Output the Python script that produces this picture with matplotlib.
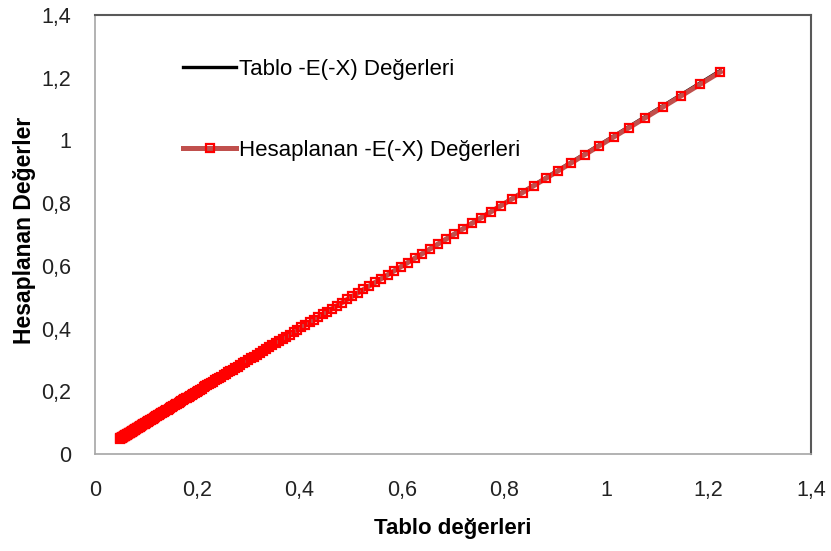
import matplotlib.pyplot as plt

plt.rcParams['font.family'] = ['Liberation Sans', 'DejaVu Sans']

# -E(-X) tablo değerleri, X = 0,20 ... 2,00 (adım 0,01)
tablo = [
    1.2227, 1.1829, 1.1454, 1.1099, 1.0763, 1.0443, 1.0139, 0.9849, 0.9573, 0.9309,
    0.9057, 0.8815, 0.8583, 0.8361, 0.8148, 0.7942, 0.7745, 0.7554, 0.7371, 0.7194,
    0.7024, 0.6859, 0.6700, 0.6546, 0.6397, 0.6253, 0.6114, 0.5979, 0.5848, 0.5721,
    0.5598, 0.5478, 0.5362, 0.5250, 0.5140, 0.5034, 0.4930, 0.4830, 0.4732, 0.4637,
    0.4544, 0.4454, 0.4366, 0.4280, 0.4197, 0.4115, 0.4036, 0.3959, 0.3883, 0.3810,
    0.3738, 0.3668, 0.3599, 0.3532, 0.3467, 0.3403, 0.3341, 0.3280, 0.3221, 0.3163,
    0.3106, 0.3051, 0.2996, 0.2943, 0.2891, 0.2840, 0.2790, 0.2742, 0.2694, 0.2648,
    0.2602, 0.2557, 0.2513, 0.2471, 0.2429, 0.2387, 0.2347, 0.2308, 0.2269, 0.2231,
    0.2194, 0.2157, 0.2122, 0.2087, 0.2052, 0.2019, 0.1986, 0.1953, 0.1922, 0.1891,
    0.1860, 0.1830, 0.1801, 0.1772, 0.1743, 0.1716, 0.1688, 0.1662, 0.1635, 0.1609,
    0.1584, 0.1559, 0.1535, 0.1511, 0.1487, 0.1464, 0.1441, 0.1419, 0.1397, 0.1376,
    0.1355, 0.1334, 0.1313, 0.1293, 0.1274, 0.1254, 0.1235, 0.1216, 0.1198, 0.1180,
    0.1162, 0.1145, 0.1128, 0.1111, 0.1094, 0.1078, 0.1062, 0.1046, 0.1031, 0.1015,
    0.1000, 0.0985, 0.0971, 0.0957, 0.0943, 0.0929, 0.0915, 0.0902, 0.0889, 0.0876,
    0.0863, 0.0851, 0.0838, 0.0826, 0.0814, 0.0802, 0.0791, 0.0780, 0.0768, 0.0757,
    0.0747, 0.0736, 0.0725, 0.0715, 0.0705, 0.0695, 0.0685, 0.0675, 0.0666, 0.0656,
    0.0647, 0.0638, 0.0629, 0.0620, 0.0612, 0.0603, 0.0595, 0.0586, 0.0578, 0.0570,
    0.0562, 0.0554, 0.0547, 0.0539, 0.0532, 0.0524, 0.0517, 0.0510, 0.0503, 0.0496,
    0.0489,
]

# hesaplanan -E(-X) değerleri, aynı X noktaları için
hesaplanan = [
    1.2182, 1.1786, 1.1413, 1.1060, 1.0726, 1.0408, 1.0105, 0.9817, 0.9542, 0.9280,
    0.9030, 0.8789, 0.8558, 0.8337, 0.8125, 0.7920, 0.7724, 0.7534, 0.7352, 0.7176,
    0.7008, 0.6844, 0.6686, 0.6533, 0.6385, 0.6242, 0.6104, 0.5970, 0.5840, 0.5714,
    0.5592, 0.5473, 0.5358, 0.5247, 0.5138, 0.5033, 0.4930, 0.4830, 0.4732, 0.4637,
    0.4544, 0.4454, 0.4366, 0.4280, 0.4197, 0.4115, 0.4036, 0.3959, 0.3883, 0.3810,
    0.3738, 0.3668, 0.3599, 0.3532, 0.3467, 0.3403, 0.3341, 0.3280, 0.3221, 0.3163,
    0.3106, 0.3051, 0.2996, 0.2943, 0.2891, 0.2840, 0.2790, 0.2742, 0.2694, 0.2648,
    0.2602, 0.2557, 0.2513, 0.2471, 0.2429, 0.2387, 0.2347, 0.2308, 0.2269, 0.2231,
    0.2194, 0.2157, 0.2122, 0.2087, 0.2052, 0.2019, 0.1986, 0.1953, 0.1922, 0.1891,
    0.1860, 0.1830, 0.1801, 0.1772, 0.1743, 0.1716, 0.1688, 0.1662, 0.1635, 0.1609,
    0.1584, 0.1559, 0.1535, 0.1511, 0.1487, 0.1464, 0.1441, 0.1419, 0.1397, 0.1376,
    0.1355, 0.1334, 0.1313, 0.1293, 0.1274, 0.1254, 0.1235, 0.1216, 0.1198, 0.1180,
    0.1162, 0.1145, 0.1128, 0.1111, 0.1094, 0.1078, 0.1062, 0.1046, 0.1031, 0.1015,
    0.1000, 0.0985, 0.0971, 0.0957, 0.0943, 0.0929, 0.0915, 0.0902, 0.0889, 0.0876,
    0.0863, 0.0851, 0.0838, 0.0826, 0.0814, 0.0802, 0.0791, 0.0780, 0.0768, 0.0757,
    0.0747, 0.0736, 0.0725, 0.0715, 0.0705, 0.0695, 0.0685, 0.0675, 0.0666, 0.0656,
    0.0647, 0.0638, 0.0629, 0.0620, 0.0612, 0.0603, 0.0595, 0.0586, 0.0578, 0.0570,
    0.0562, 0.0554, 0.0547, 0.0539, 0.0532, 0.0524, 0.0517, 0.0510, 0.0503, 0.0496,
    0.0489,
]

eksen_degerleri = [0, 0.2, 0.4, 0.6, 0.8, 1.0, 1.2, 1.4]
eksen_etiketleri = ["0", "0,2", "0,4", "0,6", "0,8", "1", "1,2", "1,4"]

fig = plt.figure(figsize=(8.31, 5.51), dpi=100)
ax = fig.add_axes([0.1143, 0.176, 0.8616, 0.7968])

ax.plot(tablo, tablo, color="black", lw=2.4, label="Tablo -E(-X) Değerleri")
ax.plot(tablo, hesaplanan, color="#C0504D", lw=3.6, marker="s", ms=5.5,
        mfc="none", mec="#FF0000", mew=1.6, label="Hesaplanan -E(-X) Değerleri")

ax.set_xlim(0, 1.4)
ax.set_ylim(0, 1.4)
ax.set_xticks(eksen_degerleri)
ax.set_xticklabels(eksen_etiketleri)
ax.set_yticks(eksen_degerleri)
ax.set_yticklabels(eksen_etiketleri)
ax.tick_params(axis="both", length=0, labelsize=15.5, colors="#222222")
ax.tick_params(axis="x", pad=19)
ax.tick_params(axis="y", pad=17)

for side in ["left", "bottom"]:
    ax.spines[side].set_color("#A6A6A6")
    ax.spines[side].set_linewidth(1.2)
for side in ["top", "right"]:
    ax.spines[side].set_color("#595959")
    ax.spines[side].set_linewidth(1.5)

ax.set_xlabel("Tablo değerleri", fontsize=16, fontweight="bold")
ax.set_ylabel("Hesaplanan Değerler", fontsize=16.5, fontweight="bold")
ax.xaxis.set_label_coords(0.5, -0.145)
ax.yaxis.set_label_coords(-0.082, 0.51)

ax.legend(loc="upper left", bbox_to_anchor=(0.2202, 0.893),
          bbox_transform=fig.transFigure, frameon=False, fontsize=16,
          handlelength=2.4, handletextpad=0.12, labelspacing=2.7,
          borderpad=0, borderaxespad=0)

fig.savefig("out.png", dpi=100)
